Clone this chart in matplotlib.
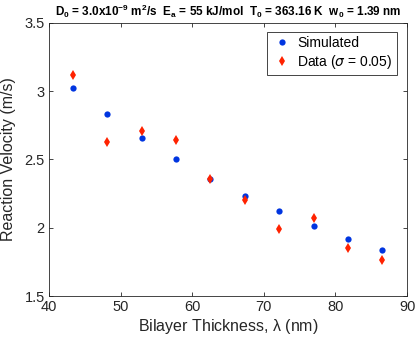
import matplotlib.pyplot as plt

plt.rcParams["font.family"] = ["Liberation Sans", "DejaVu Sans"]
plt.rcParams["mathtext.default"] = "regular"

# Bilayer thickness (nm) and reaction velocity (m/s)
thickness = [43.35, 48.15, 52.95, 57.75, 62.55, 67.35, 72.15, 76.95, 81.75, 86.55]
simulated = [3.02, 2.83, 2.66, 2.505, 2.36, 2.235, 2.12, 2.015, 1.92, 1.835]
measured = [3.12, 2.625, 2.71, 2.645, 2.36, 2.20, 1.99, 2.07, 1.85, 1.767]

fig = plt.figure(figsize=(4.15, 3.44), dpi=100, facecolor="white")
ax = fig.add_axes([0.118, 0.1395, 0.863, 0.794])

ax.plot(thickness, simulated, "o", color="#0035e0", markersize=4.5,
        markeredgewidth=0, label="Simulated")
ax.plot(thickness, measured, "d", color="#ff2200", markersize=5.5,
        markeredgewidth=0, label=r"Data ($\mathit{\sigma}$ = 0.05)")

ax.set_xlim(40, 90)
ax.set_ylim(1.5, 3.5)
ax.set_xticks([40, 50, 60, 70, 80, 90])
ax.set_yticks([1.5, 2, 2.5, 3, 3.5])
ax.set_yticklabels(["1.5", "2", "2.5", "3", "3.5"])

ax.tick_params(direction="in", length=3, width=0.6, top=True, right=True,
               labelsize=10.5, colors="#262626", pad=3)
for s in ax.spines.values():
    s.set_linewidth(0.6)
    s.set_color("#262626")

ax.set_xlabel(r"Bilayer Thickness, $\lambda$ (nm)", fontsize=11.5, color="#262626", labelpad=2)
ax.set_ylabel("Reaction Velocity (m/s)", fontsize=11.5, color="#262626", labelpad=6)
ax.set_title(r"D$_0$ = 3.0x10$^{-9}$ m$^2$/s  E$_a$ = 55 kJ/mol  T$_0$ = 363.16 K  w$_0$ = 1.39 nm",
             fontsize=8.5, fontweight="bold", pad=5)

leg = ax.legend(loc="upper right", bbox_to_anchor=(0.971, 0.968), borderaxespad=0,
                fontsize=10, fancybox=False, edgecolor="#262626", framealpha=1,
                handletextpad=0.3, handlelength=1.6, borderpad=0.3, labelspacing=0.2)
leg.get_frame().set_linewidth(0.6)

fig.savefig("out.png", dpi=100)
